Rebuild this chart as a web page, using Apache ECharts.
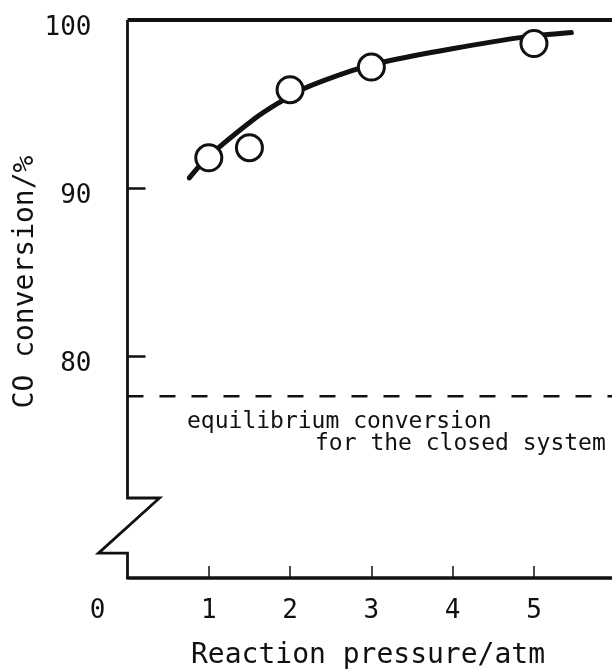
<!DOCTYPE html>
<html>
<head>
<meta charset="utf-8">
<script src="https://cdn.jsdelivr.net/npm/echarts@6/dist/echarts.min.js"></script>
<style>
  html, body { margin: 0; padding: 0; background: #fff; }
  #chart { width: 612px; height: 671px; }
</style>
</head>
<body>
<div id="chart"></div>
<script>
// Measured points: CO conversion (%) against reaction pressure (atm)
const pressure = [1, 1.5, 2, 3, 5];
const conversion = [91.8, 92.4, 95.85, 97.2, 98.6];

// Hand-drawn trend curve through the measurements
const curvePressure = [0.76, 0.98, 1.57, 1.87, 2.16, 2.77, 3.15, 4.01, 4.83, 5.46];
const curveConversion = [90.6, 91.8, 94.15, 95.1, 95.9, 97.0, 97.5, 98.3, 98.95, 99.25];

// Equilibrium conversion for the closed system (dashed reference)
const equilibrium = 77.6;

// Axis ticks and labels
const xTicks = [1, 2, 3, 4, 5];
const yTicks = [80, 90];
const yLabels = [80, 90, 100];

// Axis ranges
const X_MIN = 0, X_MAX = 5.96;
const Y_MIN = 66.79, Y_MAX = 100;
// Where the vertical axis is broken (zigzag) and how far the zigzag reaches sideways
const BREAK_TOP = 71.55, BREAK_BOTTOM = 68.27;
const ZIG_RIGHT = 0.394, ZIG_LEFT = -0.357;

const FONT = '"DejaVu Sans Mono", "Liberation Mono", monospace';
const INK = '#111';

const chart = echarts.init(document.getElementById('chart'), null, { renderer: 'canvas' });

const option = {
  animation: false,
  backgroundColor: '#fff',
  grid: { left: 127.5, top: 20, width: 484.5, height: 558, containLabel: false, outerBoundsMode: 'none' },
  xAxis: {
    type: 'value', min: X_MIN, max: X_MAX,
    axisLine: { show: true, onZero: false, lineStyle: { color: INK, width: 3.5 } },
    axisTick: { show: true, inside: true, length: 12, customValues: xTicks, lineStyle: { color: INK, width: 1.5 } },
    axisLabel: { show: true, customValues: xTicks, margin: 20, fontFamily: FONT, fontSize: 26, color: INK },
    splitLine: { show: false }
  },
  yAxis: {
    type: 'value', min: Y_MIN, max: Y_MAX,
    axisLine: { show: false },
    axisTick: { show: true, inside: true, length: 18, customValues: yTicks, lineStyle: { color: INK, width: 2.5 } },
    axisLabel: {
      show: true, customValues: yLabels, margin: 36,
      fontFamily: FONT, fontSize: 26, color: INK,
      verticalAlign: 'top', lineHeight: 16
    },
    splitLine: { show: false }
  },
  series: [
    {
      name: 'equilibrium',
      type: 'line',
      data: [[X_MIN, equilibrium], [X_MAX, equilibrium]],
      symbol: 'none',
      lineStyle: { color: INK, width: 2.5, type: [16, 16] },
      z: 2
    },
    {
      name: 'trend',
      type: 'line',
      data: curvePressure.map((p, i) => [p, curveConversion[i]]),
      smooth: 0.3,
      symbol: 'none',
      lineStyle: { color: INK, width: 5, cap: 'round' },
      z: 3
    },
    {
      name: 'measured',
      type: 'scatter',
      data: pressure.map((p, i) => [p, conversion[i]]),
      symbol: 'circle',
      symbolSize: 26,
      itemStyle: { color: '#fff', borderColor: INK, borderWidth: 3, opacity: 1 },
      z: 4
    }
  ]
};

chart.setOption(option);

// Frame pieces drawn in data space: top border, left axis with its break, axis titles
const px = (p, v) => chart.convertToPixel({ gridIndex: 0 }, [p, v]);

const topLeft = px(X_MIN, Y_MAX);
const topRight = px(X_MAX, Y_MAX);
const leftAxis = [
  px(X_MIN, Y_MAX),
  px(X_MIN, BREAK_TOP),
  px(ZIG_RIGHT, BREAK_TOP),
  px(ZIG_LEFT, BREAK_BOTTOM),
  px(X_MIN, BREAK_BOTTOM),
  px(X_MIN, Y_MIN)
];
const zeroPos = px(0, Y_MIN);
const eqPos = px(0, equilibrium);

chart.setOption({
  graphic: [
    {
      type: 'line',
      shape: { x1: topLeft[0], y1: topLeft[1], x2: topRight[0] + 4, y2: topRight[1] },
      style: { stroke: INK, lineWidth: 4 },
      z: 10
    },
    {
      type: 'polyline',
      shape: { points: leftAxis },
      style: { stroke: INK, lineWidth: 2.8, fill: null, lineJoin: 'miter' },
      z: 10
    },
    {
      type: 'text',
      x: zeroPos[0] - 30, y: zeroPos[1] + 33,
      style: { text: '0', font: '26px ' + FONT, fill: INK, textAlign: 'center', textVerticalAlign: 'middle' },
      z: 10
    },
    {
      type: 'text',
      x: 368, y: 656,
      style: { text: 'Reaction pressure/atm', font: '28px ' + FONT, fill: INK, textAlign: 'center', textVerticalAlign: 'middle' },
      z: 10
    },
    {
      type: 'text',
      x: 26, y: 282, rotation: Math.PI / 2,
      style: { text: 'CO conversion/%', font: '28px ' + FONT, fill: INK, textAlign: 'center', textVerticalAlign: 'middle' },
      z: 10
    },
    {
      type: 'text',
      x: 187, y: eqPos[1] + 26,
      style: { text: 'equilibrium conversion', font: '23px ' + FONT, fill: INK, textAlign: 'left', textVerticalAlign: 'middle' },
      z: 10
    },
    {
      type: 'text',
      x: 315, y: eqPos[1] + 48,
      style: { text: 'for the closed system', font: '23px ' + FONT, fill: INK, textAlign: 'left', textVerticalAlign: 'middle' },
      z: 10
    }
  ]
});
</script>
</body>
</html>
